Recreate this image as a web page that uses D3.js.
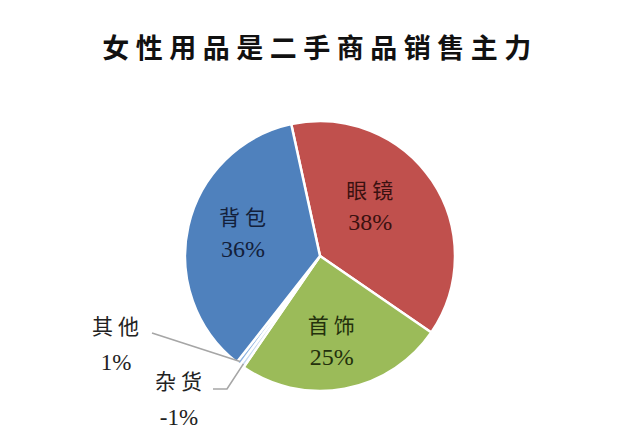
<!DOCTYPE html>
<html>
<head>
<meta charset="utf-8">
<script src="https://cdn.jsdelivr.net/npm/d3@7"></script>
<style>
  body { margin: 0; background: #fff; }
  svg { display: block; }
</style>
</head>
<body>
<div id="chart_area"></div>
<script>
// data (order = clockwise from the top)
var categories = ["眼镜", "首饰", "杂货", "其他", "背包"];
var values = [38, 25, 0.5, 0.5, 36];
var valueLabels = ["38%", "25%", "-1%", "1%", "36%"];
var sliceColors = ["#C0504D", "#9BBB59", "#C6D9F1", "#8DB3E2", "#4F81BD"];
var textColors = ["#3a1110", "#23300c", "#222", "#222", "#13203a"];
var title = "女性用品是二手商品销售主力";

var width = 640, height = 447;
var cx = 320, cy = 256, radius = 135;
var startAngle = -0.215; // first slice starts a bit left of 12 o'clock

var svg = d3.select("#chart_area")
    .append("svg")
    .attr("width", width)
    .attr("height", height);

svg.append("text")
    .attr("x", width / 2)
    .attr("y", 58)
    .attr("text-anchor", "middle")
    .style("font-family", "'Noto Sans CJK SC'")
    .style("font-weight", 700)
    .style("font-size", "27px")
    .style("letter-spacing", "6.5px")
    .style("fill", "#111")
    .text(title);

var pie = d3.pie()
    .sort(null)
    .startAngle(startAngle)
    .endAngle(startAngle + 2 * Math.PI)
    .value(function (d) { return d; });

var arcs = pie(values);

var arc = d3.arc().innerRadius(0).outerRadius(radius);

var g = svg.append("g")
    .attr("transform", "translate(" + cx + "," + cy + ")");

g.selectAll("path")
    .data(arcs)
    .enter().append("path")
    .attr("d", arc)
    .style("fill", function (d, i) { return sliceColors[i]; })
    .style("stroke", "white")
    .style("stroke-width", 2.5)
    .style("stroke-linejoin", "round");

var fontStack = "'Liberation Serif', 'Noto Sans CJK SC', serif";

// inside labels for the big slices
var big = arcs.filter(function (d) { return d.value > 5; });
var labelArc = d3.arc().innerRadius(radius * 0.6).outerRadius(radius * 0.6);
// small nudges, Excel does not put them exactly on the centroid
var nudge = { "眼镜": [-17, -6], "首饰": [-3, 4], "背包": [2, -6] };

var inner = g.selectAll("g.inlabel")
    .data(big)
    .enter().append("g")
    .attr("class", "inlabel")
    .attr("transform", function (d) {
        var c = labelArc.centroid(d);
        var n = nudge[categories[d.index]];
        return "translate(" + (c[0] + n[0]) + "," + (c[1] + n[1]) + ")";
    });

inner.append("text")
    .attr("text-anchor", "middle")
    .attr("y", -7)
    .style("font-family", fontStack)
    .style("font-size", "21px")
    .style("letter-spacing", "5px")
    .attr("dx", 2)
    .style("fill", function (d) { return textColors[d.index]; })
    .text(function (d) { return categories[d.index]; });

inner.append("text")
    .attr("text-anchor", "middle")
    .attr("y", 25)
    .style("font-family", fontStack)
    .style("font-size", "24px")
    .style("fill", function (d) { return textColors[d.index]; })
    .text(function (d) { return valueLabels[d.index]; });

// outside labels with leader lines for the tiny slices
var edgeArc = d3.arc().innerRadius(radius * 0.98).outerRadius(radius * 0.98);
var small = arcs.filter(function (d) { return d.value <= 5; });
// label anchor relative to pie centre, and the elbow of the leader line
var outside = {
    "其他": { label: [-204, 78], line: [[-168, 77]] },
    "杂货": { label: [-141, 133], line: [[-107, 133], [-93, 133]] }
};

small.forEach(function (d) {
    var name = categories[d.index];
    var o = outside[name];
    var end = edgeArc.centroid(d);
    var pts = o.line.concat([end]);
    g.append("path")
        .attr("d", d3.line()(pts))
        .style("fill", "none")
        .style("stroke", "#A6A6A6")
        .style("stroke-width", 1.6);
    g.append("text")
        .attr("x", o.label[0])
        .attr("y", o.label[1])
        .attr("dx", 2)
        .attr("text-anchor", "middle")
        .style("font-family", fontStack)
        .style("font-size", "21px")
        .style("letter-spacing", "5px")
        .style("fill", "#222")
        .text(name);
    g.append("text")
        .attr("x", o.label[0])
        .attr("y", o.label[1] + 36)
        .attr("text-anchor", "middle")
        .style("font-family", fontStack)
        .style("font-size", "23px")
        .style("fill", "#222")
        .text(valueLabels[d.index]);
});
</script>
</body>
</html>
